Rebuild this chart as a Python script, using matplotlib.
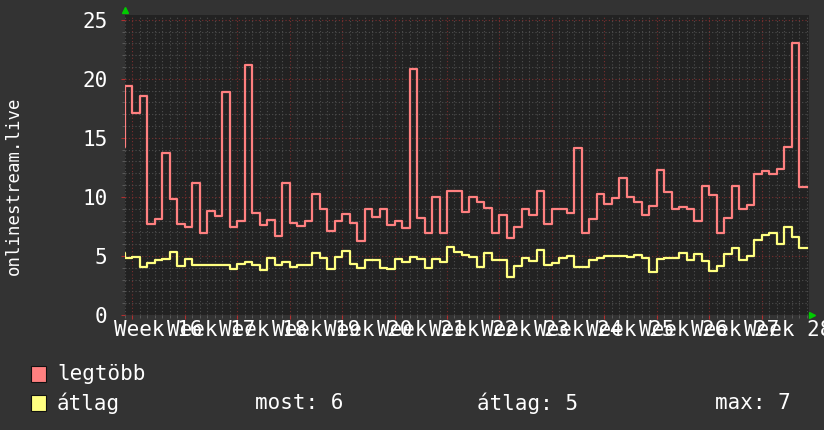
import numpy as np
import matplotlib
matplotlib.use('Agg')
import matplotlib.pyplot as plt
from matplotlib.patches import Rectangle

# daily values, first entry is the value just before the window starts
legtobb = [14.2,
           19.35, 17.09, 18.53, 7.73, 8.09, 13.71, 9.81, 7.73, 7.42, 11.17,
           6.97, 8.77, 8.35, 18.89, 7.42, 7.95, 21.15, 8.63, 7.59, 8.04,
           6.66, 11.17, 7.81, 7.53, 7.95, 10.26, 8.94, 7.11, 7.95, 8.54,
           7.81, 6.29, 8.94, 8.26, 8.94, 7.64, 7.95, 7.33, 20.81, 8.21,
           6.93, 9.98, 6.93, 10.47, 10.47, 8.69, 9.98, 9.55, 9.05, 6.95,
           8.43, 6.48, 7.43, 8.97, 8.45, 10.48, 7.69, 8.94, 8.94, 8.65,
           14.12, 6.94, 8.1, 10.26, 9.44, 9.89, 11.59, 9.97, 9.56, 8.45,
           9.24, 12.24, 10.41, 8.97, 9.14, 8.95, 7.95, 10.9, 10.19, 6.96,
           8.24, 10.9, 8.95, 9.32, 11.9, 12.17, 11.92, 12.35, 14.21, 23.0,
           10.83]
atlag = [5.25,
         4.85, 4.9, 4.06, 4.4, 4.68, 4.77, 5.33, 4.15, 4.77, 4.2,
         4.26, 4.26, 4.26, 4.26, 3.92, 4.35, 4.46, 4.26, 3.84, 4.82,
         4.2, 4.46, 4.06, 4.2, 4.2, 5.25, 4.8, 3.93, 4.95, 5.38,
         4.3, 3.99, 4.7, 4.7, 3.95, 3.92, 4.72, 4.47, 4.95, 4.72,
         3.99, 4.76, 4.49, 5.75, 5.35, 5.11, 4.91, 4.03, 5.25, 4.7,
         4.7, 3.21, 4.13, 4.79, 4.55, 5.47, 4.23, 4.4, 4.8, 4.97,
         4.07, 4.1, 4.7, 4.8, 5.03, 5.03, 4.99, 4.9, 5.04, 4.8,
         3.63, 4.77, 4.83, 4.83, 5.23, 4.68, 5.14, 4.55, 3.73, 4.15,
         5.16, 5.65, 4.7, 4.98, 6.31, 6.8, 6.93, 6.0, 7.42, 6.57,
         5.66]
weeks = list(range(16, 29))
stats = ['most: 6', 'átlag: 5', 'max: 7']

bg = '#333333'
plotbg = '#222222'
red = '#ff8080'
yellow = '#ffff80'
txt = '#ffffff'
mono = 'DejaVu Sans Mono'

days = np.arange(-1, len(legtobb))  # one extra edge so the last day is drawn

fig = plt.figure(figsize=(8.24, 4.30), dpi=100, facecolor=bg)
ax = fig.add_axes([0.1515, 0.2674, 0.8297, 0.6977], facecolor=plotbg)

ax.step(days, legtobb + [legtobb[-1]], where='post', color=red, lw=1.6, zorder=3)
ax.step(days, atlag + [atlag[-1]], where='post', color=yellow, lw=1.6, zorder=3)

ax.set_xlim(0, 91.25)
ax.set_ylim(0, 25.4)

# grid: daily / unit minor, weekly / 5-unit major
week_starts = [1 + 7 * i for i in range(len(weeks))]
ax.set_xticks(week_starts)
ax.set_xticks(np.arange(0, 92), minor=True)
ax.set_yticks(np.arange(0, 26, 5))
ax.set_yticks(np.arange(0, 26), minor=True)
ax.set_xticklabels([])
ax.set_axisbelow(True)
ax.grid(which='minor', color='#4e4e4e', linestyle=(0, (1, 2)), lw=0.8)
ax.grid(which='major', color='#7a2e2e', linestyle=(0, (1, 2)), lw=0.8)

ax.tick_params(which='major', axis='x', length=3, color='#b03030', direction='out')
ax.tick_params(which='minor', length=2, color='#606060', direction='out')
ax.tick_params(which='major', axis='y', length=3, color='#b03030', direction='out',
               labelsize=15, labelcolor=txt, pad=9.5)
for lab in ax.get_yticklabels():
    lab.set_family(mono)
for s in ax.spines.values():
    s.set_visible(False)

# week labels sit in the middle of each week
for w, st in zip(weeks, week_starts):
    ax.text(st + 3.5, -0.45, f'Week {w}', ha='center', va='top', color=txt,
            fontsize=15, family=mono, clip_on=False)

# little green arrows at the axis ends
ax.plot([0], [1.017], marker='^', color='#00cc00', ms=4, transform=ax.transAxes, clip_on=False)
ax.plot([1.005], [0], marker='>', color='#00cc00', ms=4, transform=ax.transAxes, clip_on=False)

fig.text(14 / 824, 1 - 186 / 430, 'onlinestream.live', rotation=90, ha='center', va='center',
         color=txt, fontsize=12.5, family=mono)

# legend
fig.patches.append(Rectangle((31 / 824, 1 - 382 / 430), 15 / 824, 16 / 430, transform=fig.transFigure,
                             facecolor=red, edgecolor='#111111', lw=0.8))
fig.patches.append(Rectangle((31 / 824, 1 - 411 / 430), 15 / 824, 16 / 430, transform=fig.transFigure,
                             facecolor=yellow, edgecolor='#111111', lw=0.8))
fig.text(57 / 824, 1 - 374 / 430, 'legtöbb', va='center', color=txt, fontsize=15, family=mono)
fig.text(57 / 824, 1 - 403 / 430, 'átlag', va='center', color=txt, fontsize=15, family=mono)
for s, xp in zip(stats, [255, 477, 715]):
    fig.text(xp / 824, 1 - 403 / 430, s, va='center', color=txt, fontsize=15, family=mono)

fig.savefig('out.png', dpi=100, facecolor=bg)
